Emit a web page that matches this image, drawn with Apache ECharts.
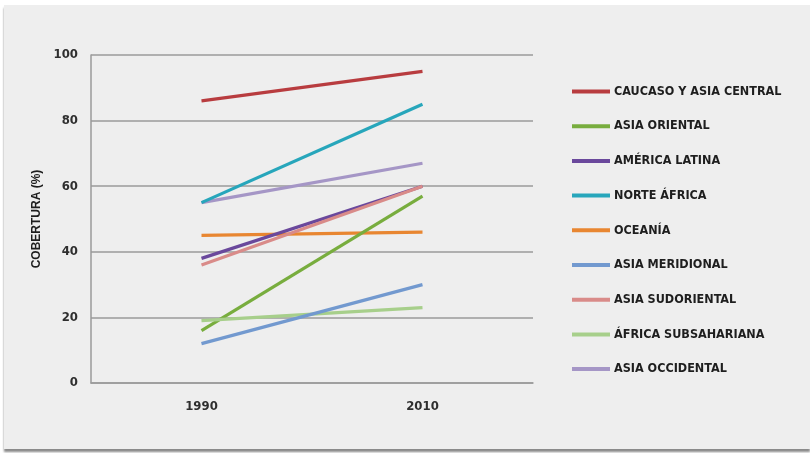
<!DOCTYPE html>
<html>
<head>
<meta charset="utf-8">
<script src="https://cdn.jsdelivr.net/npm/echarts@6/dist/echarts.min.js"></script>
<style>
html,body{margin:0;padding:0;background:#ffffff;width:810px;height:453px;overflow:hidden;}
#panel{position:absolute;left:4px;top:5px;width:806px;height:444px;background:#eeeeee;box-shadow:0 3px 2px #8a8a8a;}
#chart{position:absolute;left:0;top:0;width:806px;height:444px;}
</style>
</head>
<body>
<div id="panel"><div id="chart"></div></div>
<script>
const years = ['1990', '2010'];
const regions = ['CAUCASO Y ASIA CENTRAL','ASIA ORIENTAL','AMÉRICA LATINA','NORTE ÁFRICA','OCEANÍA','ASIA MERIDIONAL','ASIA SUDORIENTAL','ÁFRICA SUBSAHARIANA','ASIA OCCIDENTAL'];
const caucaso = [86, 95];
const asiaOriental = [16, 57];
const americaLatina = [38, 60];
const norteAfrica = [55, 85];
const oceania = [45, 46];
const asiaMeridional = [12, 30];
const asiaSudoriental = [36, 60];
const africaSub = [19, 23];
const asiaOccidental = [55, 67];
const yTicks = [0, 20, 40, 60, 80, 100];
const values = [caucaso, asiaOriental, americaLatina, norteAfrica, oceania, asiaMeridional, asiaSudoriental, africaSub, asiaOccidental];
const colors = ['#b83c3f','#78ad3e','#6a489c','#27a6bb','#e88631','#7299cf','#d98b89','#a7cf8b','#a596c6'];
const drawOrder = [4,8,3,2,6,1,7,5,0];

const font = '"DejaVu Sans Condensed","Liberation Sans",sans-serif';
const chart = echarts.init(document.getElementById('chart'));
const series = regions.map((name, i) => ({
  name: name,
  type: 'line',
  data: values[i],
  showSymbol: false,
  symbol: 'none',
  lineStyle: {width: 3.2, color: colors[i]},
  itemStyle: {color: colors[i]},
  z: 2 + drawOrder.indexOf(i),
  animation: false
}));
chart.setOption({
  backgroundColor: 'transparent',
  animation: false,
  color: colors,
  grid: {left: 87, top: 50, width: 442, height: 328, containLabel: false},
  legend: {
    orient: 'vertical',
    left: 563,
    top: 75,
    itemWidth: 38,
    itemHeight: 4,
    itemGap: 21.7,
    icon: 'rect',
    data: regions,
    textStyle: {fontFamily: font, fontSize: 12.5, color: '#1e1e1e', fontWeight: 'bold', padding: [0,0,0,-1]}
  },
  xAxis: {
    type: 'category',
    data: years,
    boundaryGap: true,
    axisLine: {show: true, lineStyle: {color: '#9a9a9a', width: 1.5}},
    axisTick: {show: false},
    axisLabel: {margin: 17, fontFamily: font, fontSize: 13, fontWeight: 'bold', color: '#2e2e2e'}
  },
  yAxis: {
    type: 'value',
    min: 0, max: 100, interval: 20,
    name: 'COBERTURA (%)',
    nameLocation: 'middle',
    nameGap: 47,
    nameTextStyle: {fontFamily: '"Liberation Sans","DejaVu Sans",sans-serif', fontSize: 12, fontWeight: 'bold', color: '#1e1e1e'},
    axisLine: {show: true, lineStyle: {color: '#9a9a9a', width: 1.5}},
    axisTick: {show: false},
    axisLabel: {margin: 13, fontFamily: font, fontSize: 13, fontWeight: 'bold', color: '#2e2e2e',
      formatter: v => yTicks.includes(v) ? String(v) : ''},
    splitLine: {show: true, lineStyle: {color: '#9a9a9a', width: 1.5}}
  },
  series: series
});
</script>
</body>
</html>
